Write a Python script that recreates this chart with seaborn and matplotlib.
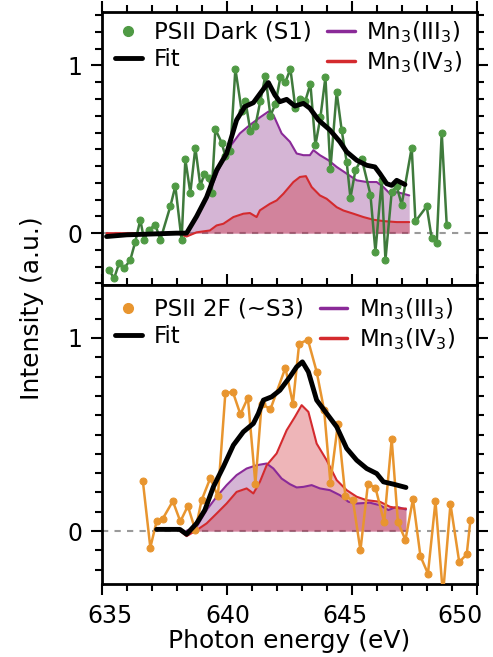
import numpy as np
import pandas as pd
import matplotlib
matplotlib.use("Agg")
import matplotlib.pyplot as plt
from matplotlib.lines import Line2D
from matplotlib.ticker import MultipleLocator, FixedLocator
from matplotlib.transforms import ScaledTranslation
import seaborn as sns

# ---------------- PSII Dark (S1) ----------------
dark_e = [635.3, 635.5, 635.7, 635.9, 636.15, 636.35, 636.55, 636.7, 636.9, 637.15,
          637.35, 637.75, 637.95, 638.2, 638.35, 638.55, 638.75, 638.95, 639.1, 639.3,
          639.4, 639.55, 639.8, 639.95, 640.15, 640.35, 640.6, 640.75, 640.95, 641.15,
          641.35, 641.55, 641.75, 641.95, 642.15, 642.35, 642.55, 642.75, 642.95, 643.15,
          643.35, 643.55, 643.75, 643.95, 644.15, 644.4, 644.6, 644.8, 644.95, 645.15,
          645.4, 645.75, 645.95, 646.2, 646.35, 646.6, 646.8, 647.0, 647.4, 647.55,
          648.0, 648.2, 648.4, 648.6, 648.8]
dark_i = [-0.22, -0.27, -0.18, -0.21, -0.16, -0.05, 0.08, -0.04, 0.02, 0.05,
          -0.04, 0.16, 0.28, -0.04, 0.44, 0.24, 0.51, 0.28, 0.35, 0.33,
          0.24, 0.62, 0.54, 0.46, 0.49, 0.98, 0.73, 0.79, 0.61, 0.64,
          0.79, 0.94, 0.70, 0.77, 0.93, 0.90, 0.98, 0.745, 0.80, 0.79,
          0.89, 0.525, 0.69, 0.93, 0.38, 0.84, 0.615, 0.425, 0.21, 0.375,
          0.445, 0.23, -0.11, 0.315, -0.16, 0.245, 0.28, 0.17, 0.51, 0.07,
          0.16, -0.03, -0.06, 0.60, 0.05]

dark_fit_e = [635.2, 636.0, 637.0, 638.0, 638.4, 638.8, 639.2, 639.6, 640.0, 640.4,
              640.73, 641.07, 641.4, 641.67, 641.93, 642.13, 642.4, 642.73, 643.07, 643.33,
              643.67, 644.13, 644.53, 644.8, 645.2, 645.6, 645.93, 646.13, 646.4, 646.6,
              646.8, 647.13]
dark_fit_i = [-0.02, -0.01, -0.005, 0.0, 0.0, 0.10, 0.215, 0.375, 0.475, 0.675,
              0.755, 0.778, 0.845, 0.898, 0.824, 0.784, 0.798, 0.758, 0.774, 0.745,
              0.675, 0.615, 0.545, 0.485, 0.435, 0.405, 0.395, 0.355, 0.295, 0.285,
              0.315, 0.29]

dark_iii_e = [638.4, 638.93, 639.33, 639.73, 640.13, 640.53, 640.93, 641.33, 641.67, 641.87,
              642.2, 642.53, 642.8, 643.07, 643.33, 643.47, 643.73, 644.07, 644.4, 644.8,
              645.2, 645.6, 646.0, 646.27, 646.6, 646.8, 647.07, 647.3]
dark_iii_i = [0.0, 0.136, 0.255, 0.395, 0.515, 0.595, 0.645, 0.69, 0.725, 0.705,
              0.595, 0.545, 0.475, 0.465, 0.465, 0.495, 0.465, 0.435, 0.395, 0.355,
              0.315, 0.305, 0.305, 0.275, 0.225, 0.245, 0.235, 0.225]

dark_iv_e = [635.2, 636.5, 637.5, 638.0, 638.4, 638.8, 639.33, 639.6, 639.87, 640.27,
             640.67, 640.93, 641.2, 641.33, 641.73, 642.0, 642.27, 642.67, 642.93, 643.17,
             643.4, 643.73, 644.0, 644.4, 644.67, 645.07, 645.47, 645.87, 646.27, 646.8,
             647.3]
dark_iv_i = [0.0, 0.0, 0.0, 0.0, -0.02, 0.005, 0.016, 0.046, 0.056, 0.096,
             0.116, 0.12, 0.096, 0.136, 0.175, 0.195, 0.235, 0.305, 0.335, 0.34,
             0.275, 0.225, 0.205, 0.155, 0.135, 0.116, 0.096, 0.08, 0.072, 0.066,
             0.066]

# ---------------- PSII 2F (~S3) ----------------
s3_e = [636.65, 636.95, 637.2, 637.45, 637.85, 638.15, 638.45, 638.75, 639.0, 639.35,
        639.65, 639.95, 640.25, 640.55, 640.85, 641.15, 641.4, 641.75, 642.35, 642.65,
        642.9, 643.25, 643.6, 643.9, 644.15, 644.45, 644.75, 645.05, 645.35, 645.65,
        645.95, 646.3, 646.6, 646.85, 647.15, 647.45, 647.75, 648.05, 648.35, 648.65,
        648.95, 649.3, 649.6, 649.75]
s3_i = [0.26, -0.085, 0.05, 0.065, 0.155, 0.05, 0.13, 0.005, 0.16, 0.275,
        0.18, 0.715, 0.72, 0.605, 0.69, 0.245, 0.66, 0.63, 0.845, 0.66,
        0.97, 0.99, 0.825, 0.625, 0.25, 0.555, 0.18, 0.16, -0.10, 0.245,
        0.225, 0.045, 0.475, 0.045, -0.045, 0.165, -0.13, -0.22, 0.155, -0.33,
        0.14, -0.16, -0.12, 0.06]

s3_fit_e = [637.2, 638.13, 638.4, 638.8, 639.13, 639.47, 639.87, 640.27, 640.67, 641.07,
            641.27, 641.47, 641.8, 642.13, 642.53, 642.8, 643.03, 643.27, 643.6, 644.0,
            644.4, 644.8, 645.2, 645.6, 646.0, 646.27, 646.67, 647.17]
s3_fit_i = [0.009, 0.009, -0.016, 0.04, 0.109, 0.229, 0.333, 0.445, 0.514, 0.557,
            0.609, 0.678, 0.695, 0.729, 0.798, 0.85, 0.876, 0.824, 0.678, 0.609,
            0.54, 0.428, 0.367, 0.324, 0.298, 0.255, 0.243, 0.226]

s3_iii_e = [638.4, 638.8, 639.2, 639.6, 640.0, 640.4, 640.8, 641.2, 641.6, 641.87,
            642.2, 642.53, 642.8, 643.07, 643.4, 643.73, 644.13, 644.53, 644.87, 645.2,
            645.73, 646.13, 646.47, 646.8, 647.17]
s3_iii_i = [0.002, 0.022, 0.109, 0.178, 0.238, 0.29, 0.324, 0.341, 0.35, 0.324,
            0.272, 0.243, 0.226, 0.229, 0.238, 0.221, 0.212, 0.186, 0.152, 0.143,
            0.147, 0.134, 0.109, 0.126, 0.112]

s3_iv_e = [638.13, 638.4, 638.8, 639.2, 639.6, 640.0, 640.4, 640.8, 641.07, 641.33,
           641.6, 642.0, 642.4, 642.73, 643.0, 643.27, 643.6, 644.0, 644.4, 644.8,
           645.2, 645.6, 646.13, 646.53, 646.93, 647.17]
s3_iv_i = [0.002, -0.026, 0.005, 0.04, 0.091, 0.143, 0.203, 0.221, 0.195, 0.255,
           0.341, 0.402, 0.522, 0.591, 0.652, 0.617, 0.453, 0.367, 0.264, 0.212,
           0.178, 0.16, 0.152, 0.126, 0.117, 0.117]

x_ticks = [635, 640, 645, 650]
y_ticks = [0, 1]

# ---------------- style ----------------
sns.set_theme(style="white")
plt.rcParams["font.family"] = ["DejaVu Sans"]
plt.rcParams["mathtext.fontset"] = "dejavusans"
plt.rcParams["text.color"] = "black"
plt.rcParams["axes.labelcolor"] = "black"
plt.rcParams["xtick.color"] = "black"
plt.rcParams["ytick.color"] = "black"

green_line = "#3f7a3c"
green_mark = "#4f9a44"
orange = "#e8952f"
purple = "#8a2a98"
red = "#d42a2e"
purple_fill = (0.50, 0.12, 0.50)
red_fill = (0.80, 0.12, 0.16)

fig = plt.figure(figsize=(4.93, 6.57), dpi=100)
ax1 = fig.add_axes([0.206, 0.566, 0.761, 0.416])
ax2 = fig.add_axes([0.206, 0.111, 0.761, 0.455])


def draw_panel(ax, de, di, color_line, color_mark, fe, fi, pe, pi, re, ri):
    ax.axhline(0, color="#9a9a9a", lw=1.5, ls=(0, (3, 3)), zorder=1)
    ax.fill_between(pe, 0, pi, color=purple_fill, alpha=0.33, lw=0, zorder=2)
    ax.fill_between(re, 0, ri, color=red_fill, alpha=0.33, lw=0, zorder=2)
    sns.lineplot(x=pe, y=pi, ax=ax, color=purple, lw=1.5, estimator=None, sort=False, zorder=3)
    sns.lineplot(x=re, y=ri, ax=ax, color=red, lw=1.5, estimator=None, sort=False, zorder=3)
    sns.lineplot(x=de, y=di, ax=ax, color=color_line, lw=1.8, marker="o", markersize=5,
                 markerfacecolor=color_mark, markeredgecolor=color_mark,
                 estimator=None, sort=False, zorder=4)
    sns.lineplot(x=fe, y=fi, ax=ax, color="black", lw=3.5, estimator=None, sort=False, zorder=5)


draw_panel(ax1, dark_e, dark_i, green_line, green_mark, dark_fit_e, dark_fit_i,
           dark_iii_e, dark_iii_i, dark_iv_e, dark_iv_i)
draw_panel(ax2, s3_e, s3_i, orange, orange, s3_fit_e, s3_fit_i,
           s3_iii_e, s3_iii_i, s3_iv_e, s3_iv_i)

ax1.set_ylim(-0.31, 1.32)
ax2.set_ylim(-0.274, 1.273)

for ax in (ax1, ax2):
    ax.set_xlim(635, 650)
    ax.set_xlabel("")
    ax.set_ylabel("")
    ax.xaxis.set_major_locator(FixedLocator(x_ticks))
    ax.xaxis.set_minor_locator(MultipleLocator(1))
    ax.yaxis.set_major_locator(FixedLocator(y_ticks))
    ax.yaxis.set_minor_locator(MultipleLocator(0.1))
    for s in ax.spines.values():
        s.set_linewidth(2)
        s.set_color("black")
    ax.tick_params(which="both", direction="out", width=1.5, color="black",
                   labelcolor="black",
                   left=True, right=True, top=True, bottom=True,
                   labelleft=True, labelright=False, labeltop=False)
    ax.tick_params(which="major", length=8, labelsize=17, pad=6)
    ax.tick_params(which="minor", length=5)

ax1.tick_params(which="both", bottom=False, labelbottom=False)
ax2.tick_params(which="both", labelbottom=True)

ax2.set_xlabel("Photon energy (eV)", fontsize=18, color="black")
ax2.xaxis.label.set_verticalalignment("baseline")
ax2.xaxis.set_label_coords(0.5, -0.215)
fig.text(0.065, 0.531, "Intensity (a.u.)", rotation=90,
         fontsize=18, ha="center", va="center", color="black")

# nudge the energy labels so the outer ones stay inside the canvas
for lab, dx in zip(ax2.get_xticklabels(), [8, 1, -7, -17]):
    lab.set_transform(lab.get_transform() + ScaledTranslation(dx / 100, 0, fig.dpi_scale_trans))


def add_legend(ax, label, color_mark, top):
    handles = [
        Line2D([], [], ls="none", marker="o", markersize=7, color=color_mark),
        Line2D([], [], color="black", lw=3.5),
        Line2D([], [], color=purple, lw=2.5),
        Line2D([], [], color=red, lw=2.5),
    ]
    labels = [label, "Fit", "Mn$_3$(III$_3$)", "Mn$_3$(IV$_3$)"]
    leg = ax.legend(handles, labels, ncol=2, loc="upper left", bbox_to_anchor=(0.035, top),
                    frameon=False, fontsize=16.5, handlelength=1.2, handletextpad=0.5,
                    columnspacing=0.7, labelspacing=0.2, borderaxespad=0, borderpad=0)
    for t in leg.get_texts():
        t.set_color("black")


add_legend(ax1, "PSII Dark (S1)", green_mark, 0.975)
add_legend(ax2, "PSII 2F (~S3)", orange, 0.965)

fig.savefig("out.png", dpi=100)
